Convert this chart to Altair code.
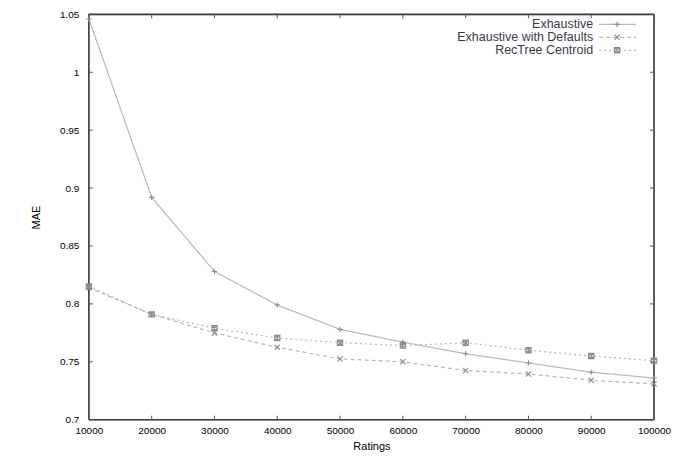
import altair as alt
import pandas as pd

ratings = [10000, 20000, 30000, 40000, 50000, 60000, 70000, 80000, 90000, 100000]
exhaustive = [1.046, 0.892, 0.828, 0.799, 0.778, 0.767, 0.757, 0.749, 0.741, 0.736]
exh_defaults = [0.814, 0.791, 0.775, 0.7625, 0.7525, 0.750, 0.7425, 0.7395, 0.734, 0.731]
rectree = [0.815, 0.791, 0.779, 0.7705, 0.7665, 0.764, 0.7665, 0.760, 0.755, 0.751]

series_names = ["Exhaustive", "Exhaustive with Defaults", "RecTree Centroid"]
y_ticks = [0.7, 0.75, 0.8, 0.85, 0.9, 0.95, 1.0, 1.05]

W, H = 566, 406
FONT = "Liberation Sans"
FS = 12.5
TEXT_COLOR = "#3a3a4a"
LINE_COLOR = "#b8b8b8"
MARK_COLOR = "#8a8a8a"
FRAME = "#3a3a3a"

dash = {"Exhaustive": [1, 0], "Exhaustive with Defaults": [4, 3], "RecTree Centroid": [2, 3]}
shapes = {
    "Exhaustive": "M-1,0L1,0M0,-1L0,1",
    "Exhaustive with Defaults": "M-1,-1L1,1M-1,1L1,-1",
    "RecTree Centroid": "M-1,-1L1,-1L1,1L-1,1ZM-1,-1L1,1M-1,1L1,-1M0,-1L0,1",
}

rows = []
for name, vals in zip(series_names, [exhaustive, exh_defaults, rectree]):
    for r, v in zip(ratings, vals):
        rows.append({"Ratings": r, "MAE": v, "series": name})
df = pd.DataFrame(rows)

xscale = alt.Scale(domain=[10000, 100000], nice=False, zero=False)
yscale = alt.Scale(domain=[0.7, 1.05], nice=False, zero=False)
xaxis = alt.Axis(values=ratings, format="d", title="Ratings", grid=False, ticks=False,
                 domain=False, labelPadding=6, titlePadding=5, labelFlush=False,
                 labelOverlap=False, titleFontWeight="normal")
yaxis = alt.Axis(values=y_ticks, format=".2~f", title="MAE", grid=False, ticks=False,
                 domain=False, labelPadding=10, titlePadding=18, labelFlush=False,
                 labelOverlap=False, titleFontWeight="normal")
X = alt.X("Ratings:Q", scale=xscale, axis=xaxis)
Y = alt.Y("MAE:Q", scale=yscale, axis=yaxis)

layers = []

# frame
fr = pd.DataFrame({"k": [0]})
layers += [
    alt.Chart(fr).mark_rule(color=FRAME, strokeWidth=1.6).encode(x=alt.value(0), x2=alt.value(W), y=alt.value(0)),
    alt.Chart(fr).mark_rule(color=FRAME, strokeWidth=1.6).encode(x=alt.value(0), x2=alt.value(W), y=alt.value(H)),
    alt.Chart(fr).mark_rule(color=FRAME, strokeWidth=1.6).encode(y=alt.value(0), y2=alt.value(H), x=alt.value(0)),
    alt.Chart(fr).mark_rule(color=FRAME, strokeWidth=1.6).encode(y=alt.value(0), y2=alt.value(H), x=alt.value(W)),
]

# inward ticks on all four sides
xt = pd.DataFrame({"Ratings": ratings})
yt = pd.DataFrame({"MAE": y_ticks})
tick_color = "#555555"
layers += [
    alt.Chart(xt).mark_rule(color=tick_color, strokeWidth=1).encode(x=X, y=alt.value(H), y2=alt.value(H - 4)),
    alt.Chart(xt).mark_rule(color=tick_color, strokeWidth=1).encode(x=X, y=alt.value(0), y2=alt.value(4)),
    alt.Chart(yt).mark_rule(color=tick_color, strokeWidth=1).encode(y=Y, x=alt.value(0), x2=alt.value(4)),
    alt.Chart(yt).mark_rule(color=tick_color, strokeWidth=1).encode(y=Y, x=alt.value(W), x2=alt.value(W - 4)),
]

for name in series_names:
    sub = df[df.series == name]
    base = alt.Chart(sub)
    line = base.mark_line(color=LINE_COLOR, strokeWidth=1.2, strokeDash=dash[name]).encode(x=X, y=Y)
    pts = base.mark_point(shape=shapes[name], filled=False, color=MARK_COLOR, size=28,
                          strokeWidth=1.1, opacity=1).encode(x=X, y=Y)
    layers += [line, pts]

# legend (top-right, gnuplot style)
leg_y = [10, 23, 36]
for i, name in enumerate(series_names):
    ld = pd.DataFrame({"label": [name]})
    layers.append(alt.Chart(ld).mark_text(align="right", baseline="middle", font=FONT, fontSize=FS,
                                          color=TEXT_COLOR).encode(
        text="label:N", x=alt.value(505), y=alt.value(leg_y[i])))
    layers.append(alt.Chart(ld).mark_rule(color=LINE_COLOR, strokeWidth=1.2, strokeDash=dash[name]).encode(
        x=alt.value(511), x2=alt.value(548), y=alt.value(leg_y[i])))
    layers.append(alt.Chart(ld).mark_point(shape=shapes[name], filled=False, color=MARK_COLOR, size=28,
                                           strokeWidth=1.1, opacity=1).encode(
        x=alt.value(529), y=alt.value(leg_y[i])))

chart = alt.layer(*layers).properties(
    width=W, height=H,
    autosize=alt.AutoSizeParams(type="none"),
    padding={"left": 81, "top": 6, "right": 19, "bottom": 40},
).configure_view(stroke=None).configure_axis(
    labelFont=FONT, titleFont=FONT, labelFontSize=FS, titleFontSize=FS,
    labelColor=TEXT_COLOR, titleColor=TEXT_COLOR, titleFontWeight="normal",
).configure(background="white")

chart.save("out.html", embed_options={"renderer": "svg", "actions": False})
